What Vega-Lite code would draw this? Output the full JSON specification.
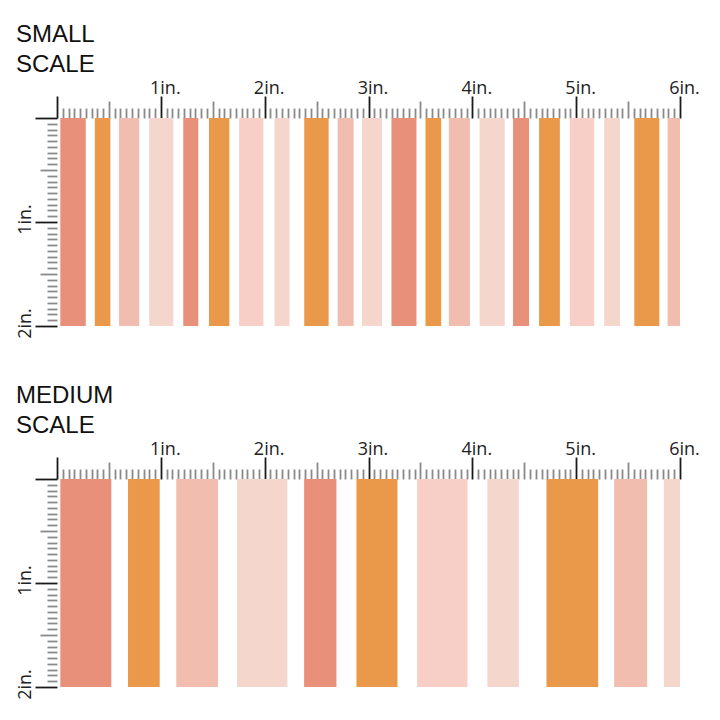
{
  "$schema": "https://vega.github.io/schema/vega-lite/v6.json",
  "background": "white",
  "padding": {"left": 16, "top": 23, "right": 20, "bottom": 10},
  "spacing": 45,
  "config": {"view": {"stroke": null}},
  "datasets": {
    "small": [
      {"start": 0.032, "end": 0.277, "color": "salmon"},
      {"start": 0.364, "end": 0.514, "color": "orange"},
      {"start": 0.598, "end": 0.792, "color": "peach"},
      {"start": 0.888, "end": 1.120, "color": "pale"},
      {"start": 1.216, "end": 1.361, "color": "salmon"},
      {"start": 1.464, "end": 1.660, "color": "orange"},
      {"start": 1.754, "end": 1.988, "color": "pink"},
      {"start": 2.095, "end": 2.239, "color": "pale"},
      {"start": 2.381, "end": 2.616, "color": "orange"},
      {"start": 2.703, "end": 2.857, "color": "peach"},
      {"start": 2.937, "end": 3.130, "color": "pale"},
      {"start": 3.221, "end": 3.462, "color": "salmon"},
      {"start": 3.549, "end": 3.700, "color": "orange"},
      {"start": 3.774, "end": 3.977, "color": "peach"},
      {"start": 4.070, "end": 4.312, "color": "pale"},
      {"start": 4.392, "end": 4.546, "color": "salmon"},
      {"start": 4.643, "end": 4.843, "color": "orange"},
      {"start": 4.939, "end": 5.174, "color": "pink"},
      {"start": 5.270, "end": 5.422, "color": "pale"},
      {"start": 5.560, "end": 5.801, "color": "orange"},
      {"start": 5.881, "end": 6.0, "color": "peach"}
    ],
    "medium": [
      {"start": 0.032, "end": 0.523, "color": "salmon"},
      {"start": 0.684, "end": 0.989, "color": "orange"},
      {"start": 1.149, "end": 1.551, "color": "peach"},
      {"start": 1.734, "end": 2.219, "color": "pale"},
      {"start": 2.380, "end": 2.691, "color": "salmon"},
      {"start": 2.884, "end": 3.279, "color": "orange"},
      {"start": 3.468, "end": 3.953, "color": "pink"},
      {"start": 4.145, "end": 4.448, "color": "pale"},
      {"start": 4.714, "end": 5.212, "color": "orange"},
      {"start": 5.366, "end": 5.684, "color": "peach"},
      {"start": 5.845, "end": 6.0, "color": "pale"}
    ]
  },
  "vconcat": [
    {
      "title": {"text": ["SMALL", "SCALE"], "anchor": "start", "frame": "bounds", "font": "Liberation Sans", "fontSize": 24, "fontWeight": "normal", "lineHeight": 30, "offset": 2, "color": "#111111"},
      "width": 623,
      "height": 208,
      "data": {"name": "small"},
      "mark": {"type": "rect"},
      "encoding": {
        "x": {"field": "start", "type": "quantitative", "scale": {"domain": [0, 6], "nice": false, "zero": false},
          "axis": {"orient": "top", "title": null, "domain": false, "grid": false, "labelOverlap": false, "labelFlush": false, "labelBound": false,
            "values": [0,0.0556,0.1111,0.1667,0.2222,0.2778,0.3333,0.3889,0.4444,0.5,0.5556,0.6111,0.6667,0.7222,0.7778,0.8333,0.8889,0.9444,1,1.0556,1.1111,1.1667,1.2222,1.2778,1.3333,1.3889,1.4444,1.5,1.5556,1.6111,1.6667,1.7222,1.7778,1.8333,1.8889,1.9444,2,2.0556,2.1111,2.1667,2.2222,2.2778,2.3333,2.3889,2.4444,2.5,2.5556,2.6111,2.6667,2.7222,2.7778,2.8333,2.8889,2.9444,3,3.0556,3.1111,3.1667,3.2222,3.2778,3.3333,3.3889,3.4444,3.5,3.5556,3.6111,3.6667,3.7222,3.7778,3.8333,3.8889,3.9444,4,4.0556,4.1111,4.1667,4.2222,4.2778,4.3333,4.3889,4.4444,4.5,4.5556,4.6111,4.6667,4.7222,4.7778,4.8333,4.8889,4.9444,5,5.0556,5.1111,5.1667,5.2222,5.2778,5.3333,5.3889,5.4444,5.5,5.5556,5.6111,5.6667,5.7222,5.7778,5.8333,5.8889,5.9444,6],
            "tickSize": {"expr": "abs(datum.value-round(datum.value))<0.001 ? 22 : (abs(2*datum.value-round(2*datum.value))<0.002 ? 17 : 10)"},
            "tickColor": {"condition": {"test": "abs(datum.value-round(datum.value))<0.001", "value": "#1a1a1a"}, "value": "#8a8a8a"},
            "tickWidth": 1.8,
            "labelExpr": "abs(datum.value-round(datum.value))<0.001 && datum.value > 0.5 ? round(datum.value) + 'in.' : ''",
            "labelFont": "Open Sans", "labelFontSize": 18, "labelColor": "#222222", "labelAlign": "center", "labelBaseline": "alphabetic", "labelPadding": 3, "labelOffset": 4}},
        "x2": {"field": "end"},
        "y": {"datum": 0, "type": "quantitative", "scale": {"domain": [0, 2], "nice": false, "zero": false, "reverse": true},
          "axis": {"orient": "left", "title": null, "domain": false, "grid": false, "labelOverlap": false, "labelFlush": false, "labelBound": false,
            "values": [0,0.0556,0.1111,0.1667,0.2222,0.2778,0.3333,0.3889,0.4444,0.5,0.5556,0.6111,0.6667,0.7222,0.7778,0.8333,0.8889,0.9444,1,1.0556,1.1111,1.1667,1.2222,1.2778,1.3333,1.3889,1.4444,1.5,1.5556,1.6111,1.6667,1.7222,1.7778,1.8333,1.8889,1.9444,2],
            "tickSize": {"expr": "abs(datum.value-round(datum.value))<0.001 ? 22 : (abs(2*datum.value-round(2*datum.value))<0.002 ? 17 : 10)"},
            "tickColor": {"condition": {"test": "abs(datum.value-round(datum.value))<0.001", "value": "#1a1a1a"}, "value": "#8a8a8a"},
            "tickWidth": 1.8,
            "labelExpr": "abs(datum.value-round(datum.value))<0.001 && datum.value > 0.5 ? round(datum.value) + 'in.' : ''",
            "labelFont": "Open Sans", "labelFontSize": 18, "labelColor": "#222222", "labelAngle": 270, "labelAlign": "center", "labelBaseline": "alphabetic", "labelPadding": 5, "labelOffset": -3}},
        "y2": {"datum": 2},
        "color": {"field": "color", "type": "nominal", "legend": null,
          "scale": {"domain": ["salmon", "orange", "peach", "pale", "pink"], "range": ["#E9907A", "#EA9849", "#F0BDAF", "#F4D6CC", "#F7CFC7"]}}
      }
    },
    {
      "title": {"text": ["MEDIUM", "SCALE"], "anchor": "start", "frame": "bounds", "font": "Liberation Sans", "fontSize": 24, "fontWeight": "normal", "lineHeight": 30, "offset": 2, "color": "#111111"},
      "width": 623,
      "height": 208,
      "data": {"name": "medium"},
      "mark": {"type": "rect"},
      "encoding": {
        "x": {"field": "start", "type": "quantitative", "scale": {"domain": [0, 6], "nice": false, "zero": false},
          "axis": {"orient": "top", "title": null, "domain": false, "grid": false, "labelOverlap": false, "labelFlush": false, "labelBound": false,
            "values": [0,0.0556,0.1111,0.1667,0.2222,0.2778,0.3333,0.3889,0.4444,0.5,0.5556,0.6111,0.6667,0.7222,0.7778,0.8333,0.8889,0.9444,1,1.0556,1.1111,1.1667,1.2222,1.2778,1.3333,1.3889,1.4444,1.5,1.5556,1.6111,1.6667,1.7222,1.7778,1.8333,1.8889,1.9444,2,2.0556,2.1111,2.1667,2.2222,2.2778,2.3333,2.3889,2.4444,2.5,2.5556,2.6111,2.6667,2.7222,2.7778,2.8333,2.8889,2.9444,3,3.0556,3.1111,3.1667,3.2222,3.2778,3.3333,3.3889,3.4444,3.5,3.5556,3.6111,3.6667,3.7222,3.7778,3.8333,3.8889,3.9444,4,4.0556,4.1111,4.1667,4.2222,4.2778,4.3333,4.3889,4.4444,4.5,4.5556,4.6111,4.6667,4.7222,4.7778,4.8333,4.8889,4.9444,5,5.0556,5.1111,5.1667,5.2222,5.2778,5.3333,5.3889,5.4444,5.5,5.5556,5.6111,5.6667,5.7222,5.7778,5.8333,5.8889,5.9444,6],
            "tickSize": {"expr": "abs(datum.value-round(datum.value))<0.001 ? 22 : (abs(2*datum.value-round(2*datum.value))<0.002 ? 17 : 10)"},
            "tickColor": {"condition": {"test": "abs(datum.value-round(datum.value))<0.001", "value": "#1a1a1a"}, "value": "#8a8a8a"},
            "tickWidth": 1.8,
            "labelExpr": "abs(datum.value-round(datum.value))<0.001 && datum.value > 0.5 ? round(datum.value) + 'in.' : ''",
            "labelFont": "Open Sans", "labelFontSize": 18, "labelColor": "#222222", "labelAlign": "center", "labelBaseline": "alphabetic", "labelPadding": 3, "labelOffset": 4}},
        "x2": {"field": "end"},
        "y": {"datum": 0, "type": "quantitative", "scale": {"domain": [0, 2], "nice": false, "zero": false, "reverse": true},
          "axis": {"orient": "left", "title": null, "domain": false, "grid": false, "labelOverlap": false, "labelFlush": false, "labelBound": false,
            "values": [0,0.0556,0.1111,0.1667,0.2222,0.2778,0.3333,0.3889,0.4444,0.5,0.5556,0.6111,0.6667,0.7222,0.7778,0.8333,0.8889,0.9444,1,1.0556,1.1111,1.1667,1.2222,1.2778,1.3333,1.3889,1.4444,1.5,1.5556,1.6111,1.6667,1.7222,1.7778,1.8333,1.8889,1.9444,2],
            "tickSize": {"expr": "abs(datum.value-round(datum.value))<0.001 ? 22 : (abs(2*datum.value-round(2*datum.value))<0.002 ? 17 : 10)"},
            "tickColor": {"condition": {"test": "abs(datum.value-round(datum.value))<0.001", "value": "#1a1a1a"}, "value": "#8a8a8a"},
            "tickWidth": 1.8,
            "labelExpr": "abs(datum.value-round(datum.value))<0.001 && datum.value > 0.5 ? round(datum.value) + 'in.' : ''",
            "labelFont": "Open Sans", "labelFontSize": 18, "labelColor": "#222222", "labelAngle": 270, "labelAlign": "center", "labelBaseline": "alphabetic", "labelPadding": 5, "labelOffset": -3}},
        "y2": {"datum": 2},
        "color": {"field": "color", "type": "nominal", "legend": null,
          "scale": {"domain": ["salmon", "orange", "peach", "pale", "pink"], "range": ["#E9907A", "#EA9849", "#F0BDAF", "#F4D6CC", "#F7CFC7"]}}
      }
    }
  ]
}
